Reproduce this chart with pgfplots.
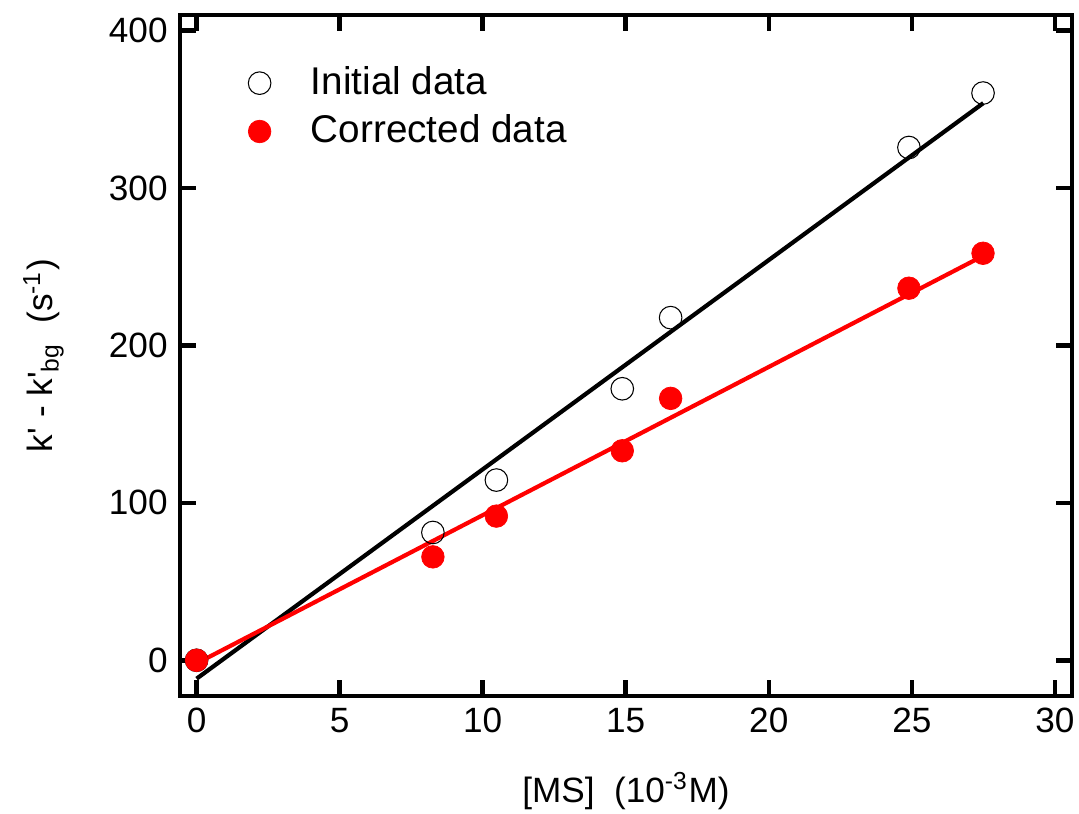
\documentclass[border=0pt,10pt]{standalone}
\usepackage{fontspec}
\setmainfont{Liberation Sans}
\newfontfamily\nolig{Liberation Sans}
\usepackage{pgfplots}
\pgfplotsset{compat=1.18}
\newcommand{\pr}{{\nolig'}}
\begin{document}
\begin{tikzpicture}
\useasboundingbox (-18mm,-11.8mm) rectangle (89.9mm,69.6mm);
\begin{axis}[
  at={(0,0)}, anchor=south west,
  scale only axis,
  width=89.2mm, height=68.1mm,
  xmin=-0.58, xmax=30.6,
  ymin=-22.7, ymax=410,
  xtick={0,5,...,30},
  ytick={0,100,...,400},
  tick align=inside,
  major tick length=1.6mm,
  axis line style={line width=0.45mm},
  every tick/.style={black, line width=0.45mm},
  /pgf/number format/assume math mode=true,
  tick label style={font=\fontsize{10}{12}\selectfont},
  xlabel={[MS]\ \ (10\textsuperscript{-3}M)},
  ylabel={k\pr{} - k\pr\textsubscript{bg}\ \ (s\textsuperscript{-1})},
  label style={font=\fontsize{10}{12}\selectfont},
  xlabel style={at={(axis description cs:0.5,-0.1557)}, anchor=base},
  ylabel style={at={(axis description cs:-0.1424,0.5)}, anchor=base},
  legend style={draw=none, fill=none, at={(axis description cs:0.064,0.946)}, anchor=north west,
    font=\fontsize{11}{13}\selectfont, row sep=0.1mm,
    /tikz/column 1/.style={column sep=3.3mm}},
  legend cell align=left,
]
\addplot[black, line width=0.42mm, forget plot] coordinates {(0,-11.7) (27.5,354)};
\addplot[red, line width=0.42mm, forget plot] coordinates {(0,-2) (27.5,257)};
\addplot[only marks, mark=o, mark size=1.13mm, mark options={black, line width=0.3pt, fill=none}]
coordinates {(0,0) (8.26,81.2) (10.48,114.5) (14.88,172.5) (16.57,217.7) (24.9,325.8) (27.49,360.4)};
\addlegendentry{Initial data}
\addplot[only marks, mark=*, mark size=1.13mm, mark options={draw=red, fill=red, line width=0.2pt}]
coordinates {(0,0) (8.26,65.7) (10.48,91.6) (14.88,133.1) (16.57,166.4) (24.9,236.4) (27.49,258.6)};
\addlegendentry{Corrected data}
\end{axis}
\end{tikzpicture}
\end{document}
